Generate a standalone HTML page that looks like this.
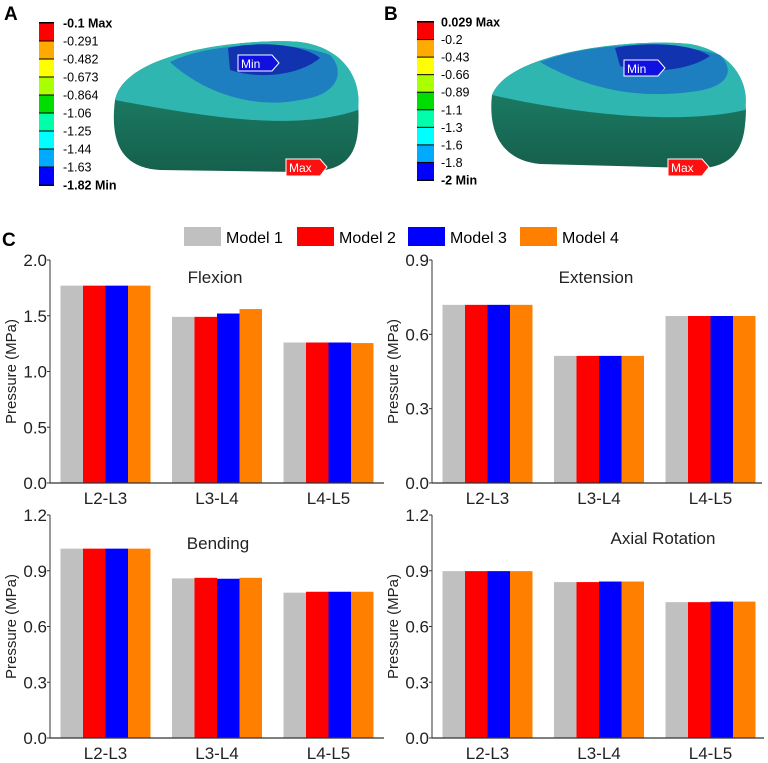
<!DOCTYPE html>
<html><head><meta charset="utf-8">
<style>
body{margin:0;background:#fff;}
svg{display:block;font-family:"Liberation Sans",Arial,sans-serif;}
</style></head>
<body>
<svg id="fig" width="768" height="763" viewBox="0 0 768 763">
<defs>
<linearGradient id="side" x1="0" y1="0" x2="0" y2="1">
<stop offset="0" stop-color="#1f8a72"/><stop offset="1" stop-color="#15604c"/>
</linearGradient>
</defs>
<g>
<text x="4" y="20" font-size="19" font-weight="bold">A</text>
<g id="cbA"></g>
<g>
<path d="M115,100 C125,50 250,38 300,42 C345,48 362,80 358,130 C355,165 335,172 300,172 L160,170 C120,168 110,140 115,100 Z" fill="url(#side)"/>
<path d="M115,100 C125,50 250,38 300,42 C345,48 362,80 358,110 C300,130 220,120 115,100 Z" fill="#2fb6b0"/>
<path d="M170,62 C210,42 290,40 330,55 C345,70 340,95 300,100 C250,110 200,90 170,62 Z" fill="#1e7fc0"/>
<path d="M228,48 C250,42 300,42 320,58 C300,75 260,80 230,70 Z" fill="#1233b0"/>
<polygon points="238,55 272,55 279,63 272,71 238,71" fill="#1010e0" stroke="#fff" stroke-width="1"/>
<text x="241" y="68" font-size="12" fill="#fff">Min</text>
<polygon points="286,159 320,159 327,167 320,176 286,176" fill="#ff1010" stroke="#fff" stroke-width="1"/>
<text x="289" y="172" font-size="12" fill="#fff">Max</text>
</g>
</g>
<g>
<text x="384" y="20" font-size="19" font-weight="bold">B</text>
<g id="cbB"></g>
<g>
<path d="M492,95 C510,50 640,38 690,44 C735,52 750,85 745,125 C742,160 720,170 690,168 L540,164 C500,160 488,130 492,95 Z" fill="url(#side)"/>
<path d="M492,95 C510,50 640,38 690,44 C735,52 750,85 745,110 C680,125 580,115 492,95 Z" fill="#2fb6b0"/>
<path d="M540,62 C590,42 670,40 720,55 C735,70 730,88 690,92 C630,100 580,85 540,62 Z" fill="#1e7fc0"/>
<path d="M615,48 C640,42 690,42 710,56 C690,70 650,75 620,66 Z" fill="#1233b0"/>
<polygon points="624,60 658,60 665,68 658,76 624,76" fill="#1010e0" stroke="#fff" stroke-width="1"/>
<text x="627" y="73" font-size="12" fill="#fff">Min</text>
<polygon points="668,159 702,159 709,167 702,176 668,176" fill="#ff1010" stroke="#fff" stroke-width="1"/>
<text x="671" y="172" font-size="12" fill="#fff">Max</text>
</g>
</g>
<text x="2" y="246" font-size="19" font-weight="bold">C</text>
<g id="legend"></g>
<g id="charts"></g>
</svg>
<script>
const NS="http://www.w3.org/2000/svg";
function mk(tag,attrs,parent){const e=document.createElementNS(NS,tag);for(const k in attrs)e.setAttribute(k,attrs[k]);parent.appendChild(e);return e;}

const cbColors=["#ff0000","#ffaa00","#ffff00","#aaff00","#00dd00","#00ffaa","#00ffff","#00aaff","#0000ff"];
const cbLabelsA=["-0.1 Max","-0.291","-0.482","-0.673","-0.864","-1.06","-1.25","-1.44","-1.63","-1.82 Min"];
const cbLabelsB=["0.029 Max","-0.2","-0.43","-0.66","-0.89","-1.1","-1.3","-1.6","-1.8","-2 Min"];
function colorbar(gid,x,y,w,h,labels,lx){
  const g=document.getElementById(gid);
  const seg=h/cbColors.length;
  mk("rect",{x:x,y:y-1,width:w,height:h+2,fill:"#000"},g);
  cbColors.forEach((c,i)=>{
    const r=mk("rect",{x:x,y:y+i*seg+0.5,width:w,height:seg-1,fill:c},g);
    
    
  });
  labels.forEach((t,i)=>{
    const tx=mk("text",{x:lx,y:y+i*seg+4.5,"font-size":12.5,"font-weight":(i==0||i==labels.length-1)?"bold":"normal"},g);
    tx.textContent=t;
    
    
  });
}
colorbar("cbA",39,23,15,162,cbLabelsA,63);
colorbar("cbB",417,22,17,158,cbLabelsB,441);

const categories=["L2-L3","L3-L4","L4-L5"];
const seriesNames=["Model 1","Model 2","Model 3","Model 4"];
const seriesColors=["#c0c0c0","#ff0000","#0000ff","#ff8000"];
const flexion=[[1.77,1.49,1.26],[1.77,1.49,1.26],[1.77,1.52,1.26],[1.77,1.56,1.255]];
const extension=[[0.719,0.513,0.674],[0.719,0.513,0.674],[0.719,0.513,0.674],[0.719,0.513,0.674]];
const bending=[[1.019,0.859,0.782],[1.019,0.862,0.787],[1.019,0.857,0.787],[1.019,0.862,0.787]];
const axial=[[0.898,0.839,0.731],[0.898,0.839,0.731],[0.898,0.842,0.734],[0.898,0.842,0.734]];
const ticksFlex=["0.0","0.5","1.0","1.5","2.0"];
const ticks09=["0.0","0.3","0.6","0.9"];
const ticks12=["0.0","0.3","0.6","0.9","1.2"];

const lg=document.getElementById("legend");
const legX=[184,297,408,520];
seriesNames.forEach((n,i)=>{
  const r=mk("rect",{x:legX[i],y:227,width:37,height:19,fill:seriesColors[i]},lg);
  
  
  const t=mk("text",{x:legX[i]+42,y:243,"font-size":16},lg);
  t.textContent=n;
  
  
});

const charts=document.getElementById("charts");
function chart(name,title,data,ticks,max,ax,right,top,bottom,tx,ty){
  const g=mk("g",{},charts);
  
  
  const yS=v=>bottom-(v/max)*(bottom-top);
  const band=111.5;
  const x0=ax+10.5;
  const bw=22.5;
  data.forEach((s,si)=>{
    s.forEach((v,ci)=>{
      const r=mk("rect",{x:x0+ci*band+si*bw,y:yS(v),width:bw,height:bottom-yS(v),fill:seriesColors[si]},g);
      
      
    });
  });
  mk("line",{x1:ax,y1:top,x2:ax,y2:bottom,stroke:"#333","stroke-width":1},g);
  mk("line",{x1:ax,y1:bottom,x2:right,y2:bottom,stroke:"#333","stroke-width":1.2},g);
  ticks.forEach(t=>{
    const y=yS(parseFloat(t));
    mk("line",{x1:ax-3,y1:y,x2:ax,y2:y,stroke:"#333"},g);
    const tt=mk("text",{x:ax-3,y:y+6,"font-size":17,"text-anchor":"end",fill:"#222"},g);
    tt.textContent=t;
    
    
  });
  categories.forEach((c,ci)=>{
    const cx=x0+ci*band+bw*2;
    const t=mk("text",{x:cx,y:bottom+21,"font-size":17,"text-anchor":"middle",fill:"#222"},g);
    t.textContent=c;
    
    
  });
  const yt=mk("text",{x:0,y:0,"font-size":15,"text-anchor":"middle",transform:`translate(${ax-34},${(top+bottom)/2}) rotate(-90)`,fill:"#222"},g);
  yt.textContent="Pressure (MPa)";
  
  
  const ti=mk("text",{x:tx,y:ty,"font-size":17,"text-anchor":"middle",fill:"#222"},g);
  ti.textContent=title;
  
  
}
chart("flexion","Flexion",flexion,ticksFlex,2.0,50,384,260,483,215,283);
chart("extension","Extension",extension,ticks09,0.9,432,762,260,483,596,283);
chart("bending","Bending",bending,ticks12,1.2,50,384,515,738,218,549);
chart("axial","Axial Rotation",axial,ticks12,1.2,432,764,515,738,663,544);
</script>
</body></html>
